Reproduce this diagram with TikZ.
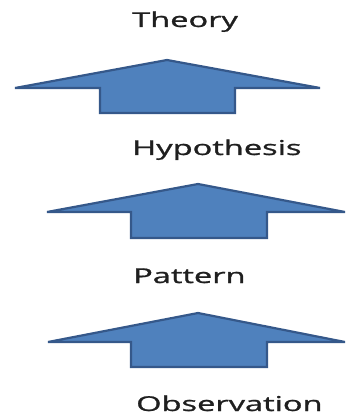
\documentclass[tikz,border=0pt]{standalone}
\usepackage{fontspec}
\setmainfont{Open Sans}
\newfontfamily\lblfont[FakeBold=1.0]{Open Sans}
\definecolor{afill}{HTML}{4F81BD}
\definecolor{aline}{HTML}{35588A}
\begin{document}
\begin{tikzpicture}[x=1pt,y=-1pt,
  lbl/.style={anchor=base west,inner sep=0pt,font=\lblfont\fontsize{20.5}{24}\selectfont,text=black!88},
  uparrow/.style={fill=afill,draw=aline,line width=2.2pt,line join=miter}]
\useasboundingbox (0,0) rectangle (346,419);
\node[lbl] (theory) at (132,27) {\scalebox{1.59}[1]{Theory}};
\node[lbl] (hyp) at (132,155) {\scalebox{1.59}[1]{Hypothesis}};
\node[lbl] (pat) at (133,283) {\scalebox{1.59}[1]{Pattern}};
\node[lbl] (obs) at (136,411) {\scalebox{1.59}[1]{Observation}};
\draw[uparrow] (167,60) -- (320,88) -- (235,88) -- (235,113) -- (100,113) -- (100,88) -- (15,88) -- cycle;
\draw[uparrow] (198,184) -- (345,212) -- (267,212) -- (267,238) -- (131,238) -- (131,212) -- (47,212) -- cycle;
\draw[uparrow] (198,313) -- (345,342) -- (267,342) -- (267,367) -- (131,367) -- (131,342) -- (48,342) -- cycle;
\end{tikzpicture}
\end{document}
